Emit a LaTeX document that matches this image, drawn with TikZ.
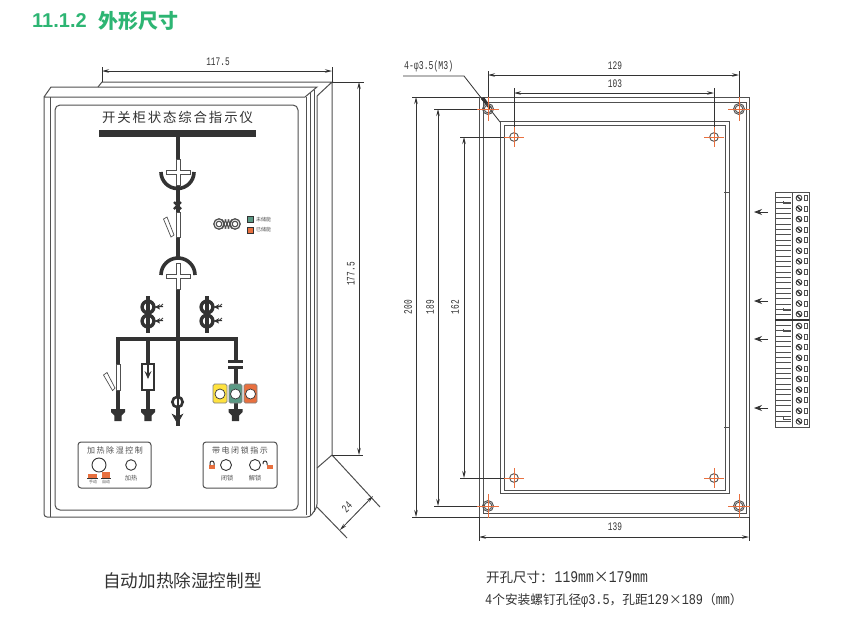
\documentclass[tikz,border=0pt]{standalone}
\usepackage{fontspec}
\usetikzlibrary{arrows.meta}
\setmainfont{Noto Sans CJK SC}
\newfontfamily\cjk{Noto Sans CJK SC}
\newfontfamily\cjkwide[LetterSpace=14]{Noto Sans CJK SC}
\newfontfamily\cjkmid[LetterSpace=19]{Noto Sans CJK SC}
\newfontfamily\dimf[FakeStretch=0.68]{Liberation Mono}
\newfontfamily\capf[FakeStretch=0.8]{Liberation Mono}
\newfontfamily\headf{Liberation Sans}
\newcommand\fs[1]{\fontsize{#1}{#1}\selectfont}
\definecolor{ln}{HTML}{505050}
\definecolor{dk}{HTML}{333333}
\definecolor{hdgreen}{HTML}{2DB573}
\definecolor{cen}{HTML}{E8703F}
\definecolor{grn}{HTML}{5B9A85}
\definecolor{ylw}{HTML}{FFE23F}
\tikzset{
  body/.style={draw=ln,line width=1pt},
  bus/.style={draw=dk,line width=4pt},
  whitebar/.style={draw=ln,fill=white,line width=0.7pt},
  dimline/.style={draw=dk,line width=0.8pt,{Stealth[length=7pt,width=3.5pt]}-{Stealth[length=7pt,width=3.5pt]}},
  extline/.style={draw=dk,line width=0.8pt},
  dimtext/.style={text=dk,font=\dimf\fs{11.5},inner sep=0pt},
  center line/.style={draw=cen,line width=0.9pt},
  hole/.style={draw=ln,line width=0.9pt},
  smalltxt/.style={text=ln,inner sep=0pt},
  panel/.style={draw=ln,line width=1pt,rounded corners=3pt},
}
\newcommand\crossmark[2]{%
  \draw[whitebar] (#1-2,#2-13)--(#1+2,#2-13)--(#1+2,#2-2)--(#1+12,#2-2)--(#1+12,#2+2)--(#1+2,#2+2)--(#1+2,#2+13)--(#1-2,#2+13)--(#1-2,#2+2)--(#1-12,#2+2)--(#1-12,#2-2)--(#1-2,#2-2)--cycle;}
\newcommand\earth[2]{%
  \fill[dk] (#1-7,#2)--(#1+7,#2)--(#1+7,#2+3)--(#1+3.7,#2+6.5)--(#1+3.7,#2+12)--(#1-3.7,#2+12)--(#1-3.7,#2+6.5)--(#1-7,#2+3)--cycle;}
\newcommand\ctrans[2]{%
  \draw[dk,line width=3.4pt] (#1,#2-11)--(#1,#2+26);
  \draw[dk,line width=3.4pt] (#1,#2) circle (5.9) (#1,#2+14) circle (5.9);
  \foreach \yy in {0,14}{
    \draw[dk,line width=1.1pt] (#1+7,#2+\yy)--(#1+15,#2+\yy-0.5);
    \fill[dk] (#1+7,#2+\yy)--(#1+12,#2+\yy-2.8)--(#1+11,#2+\yy)--(#1+12,#2+\yy+2.6)--cycle;
    \draw[dk,line width=0.8pt] (#1+12,#2+\yy-0.5)--(#1+15,#2+\yy-3);
  }}
\begin{document}
\begin{tikzpicture}[x=1pt,y=-1pt]
\useasboundingbox (0,0) rectangle (850,625);
\fill[white] (0,0) rectangle (850,625);

% heading
\node[anchor=west,inner sep=0pt,text=hdgreen] (head) at (32,21) {\headf\bfseries\fs{20}11.1.2};
\node[anchor=west,inner sep=0pt,text=hdgreen] (headcn) at (98,21) {\cjk\bfseries\fs{20}外形尺寸};

% ---------- left: cabinet ----------
\draw[body,rounded corners=3pt] (44,97)--(44,517)--(310,517)--(317,507)--(317,96);
\draw[body] (44,97)--(305,97) (44,97)--(51,87)--(317,87)--(305,97);
\draw[body] (50,97)--(50,517);
\draw[body] (306,97)--(306,515) (310,93)--(310,515) (314,90)--(314,512);
\draw[body] (98,87)--(102,82)--(332,82)--(317,96) (332,82)--(332,455)--(317,468);
\draw[body,rounded corners=5pt] (55,105) rectangle (298,510);
\draw[body] (317,507)--(347,538);
\draw[body] (332,455)--(380,507);

% dims left
\draw[extline] (102,67)--(102,82) (332,67)--(332,82) (332,82)--(364,82) (332,455)--(363,455);
\draw[dimline] (102,71)--(332,71);
\node[dimtext] (d1175) at (218,62) {117.5};
\draw[dimline] (359,82)--(359,455);
\node[dimtext,rotate=90] (d1775) at (351,274) {177.5};
\draw[dimline] (373,496)--(340,530);
\node[dimtext,rotate=45] (d24) at (347,507) {24};

% panel title
\node[inner sep=0pt,text=dk] (title) at (177.5,117) {\cjkwide\fs{13.4}开关柜状态综合指示仪};
\fill[dk] (99,130) rectangle (256,137);

% main vertical
\draw[bus] (177.5,137)--(177.5,258);
\draw[bus,line width=3.6pt] (161,172) arc[start angle=180,end angle=0,radius=16.5];
\crossmark{178}{172}
\draw[dk,line width=2.2pt] (174,202)--(181,209) (181,202)--(174,209);
\draw[whitebar] (176,212) rectangle (180,237);
\draw[whitebar] (163.5,219)--(167,217)--(174,235)--(171,237)--cycle;
\draw[bus,line width=3.6pt] (161,275) arc[start angle=180,end angle=360,radius=17];
\draw[bus] (177.5,275)--(177.5,426);
\crossmark{178}{276}

% CTs
\ctrans{148}{307}
\ctrans{207}{307}

% bus
\draw[bus,line cap=rect] (118,339)--(236,339);

% branch 1
\draw[bus] (118,339)--(118,410);
\draw[whitebar] (116,364) rectangle (120,390);
\draw[whitebar] (103.5,375)--(107,372.5)--(115,388)--(112.5,390.5)--cycle;
\earth{118}{409}
% branch 2
\draw[bus] (148,339)--(148,410);
\draw[draw=dk,line width=2.2pt,fill=white] (142,364) rectangle (154,390);
\draw[dk,line width=1.6pt] (148,364)--(148,376);
\fill[dk] (144.5,371)--(148,374)--(151.5,371)--(148,379)--cycle;
\earth{148}{409}
% branch 3
\draw[dk,line width=2.6pt,fill=white] (177.5,402) circle (5.2);
\draw[dk,line width=2pt] (177.5,396)--(177.5,408);
\fill[dk] (171.5,413.5)--(177.5,416.5)--(183.5,413.5)--(177.5,424)--cycle;
% branch 4
\draw[bus] (235.5,339)--(235.5,359.5);
\draw[dk,line width=3pt] (228,361.5)--(243,361.5) (228,367.5)--(243,367.5);
\draw[bus] (235.5,368)--(235.5,410);
\earth{235.5}{409}
\foreach \xa/\xb/\cc in {213/227/ylw,229/242/grn,244/257/cen}{
  \draw[draw=gray,line width=0.7pt,fill=\cc,rounded corners=1.5pt] (\xa,384) rectangle (\xb,403);
  \draw[dk,line width=0.7pt,fill=white] ({(\xa+\xb)/2},394) circle (5);
}

% logo
\foreach \xx in {219,235}{
  \draw[ln,line width=1.3pt] (\xx,224) circle (5.2);
  \draw[ln,line width=1.1pt] (\xx,224) circle (2.8);
}
\foreach \xx in {222,225,228}{
  \draw[ln,line width=1.2pt] (\xx,219.5)--(\xx+4,228.5);
  \draw[ln,line width=1.2pt] (\xx+4,219.5)--(\xx,228.5);
}
\draw[draw=dk,line width=0.7pt,fill=grn] (247,216.5) rectangle (253.5,222.5);
\draw[draw=dk,line width=0.7pt,fill=cen] (247,227) rectangle (253.5,233);
\node[smalltxt,anchor=west] (t1) at (256,219.5) {\cjk\fs{5}未储能};
\node[smalltxt,anchor=west] (t2) at (256,230) {\cjk\fs{5}已储能};

% control boxes
\draw[panel] (78,442) rectangle (151,488);
\node[smalltxt] (p1) at (115,450) {\cjkmid\fs{8}加热除湿控制};
\draw[dk,line width=0.9pt] (99,465) circle (7);
\draw[dk,line width=0.9pt] (131,465) circle (5.3);
\fill[cen] (88,474) rectangle (97,477.5);
\fill[dk] (87,477.5) rectangle (98,478.5);
\fill[cen] (102,472) rectangle (110,477.5);
\fill[dk] (101,477.5) rectangle (111,478.5);
\node[smalltxt] (p1a) at (93,481.5) {\cjk\fs{4}手动};
\node[smalltxt] (p1b) at (106,481.5) {\cjk\fs{4}自动};
\node[smalltxt] (p1c) at (131,478) {\cjk\fs{6.2}加热};

\draw[panel] (203,442) rectangle (277,488);
\node[smalltxt] (p2) at (240,450) {\cjkmid\fs{8}带电闭锁指示};
\draw[dk,line width=0.9pt] (226,465) circle (5.5);
\draw[dk,line width=0.9pt] (255,465) circle (5.5);
\fill[cen] (209,465) rectangle (215,469);
\draw[dk,line width=1pt] (210,465)--(210,463) arc[start angle=180,end angle=360,radius=2]--(214,465);
\fill[cen] (267,465) rectangle (273,469);
\draw[dk,line width=1pt] (267,465)--(267,463) arc[start angle=0,end angle=-180,radius=2]--(263,464);
\node[smalltxt] (p2a) at (227,478) {\cjk\fs{6.2}闭锁};
\node[smalltxt] (p2b) at (255,478) {\cjk\fs{6.2}解锁};

\node[inner sep=0pt,text=dk] (cap1) at (182.5,581) {\cjk\fs{17.6}自动加热除湿控制型};

% ---------- right: mounting ----------
\draw[body] (479,97) rectangle (749,517);
\draw[body] (483,102) rectangle (746,513);
\draw[body] (500,121) rectangle (729,493);
\draw[body] (504,125) rectangle (725,490);
\draw[body] (724,192)--(729,192) (724,427)--(729,427);

% extension lines and dims
\draw[extline] (488,71)--(488,109) (739,71)--(739,109);
\draw[extline] (514,88)--(514,137) (714,88)--(714,137);
\draw[extline] (479,517)--(479,541) (749,517)--(749,541);
\draw[extline] (412,97)--(479,97) (412,517)--(479,517);
\draw[extline] (434,109)--(488,109) (434,506)--(488,506);
\draw[extline] (460,137)--(514,137) (460,478)--(514,478);
\draw[dimline] (488,75)--(739,75);
\draw[dimline] (514,93)--(714,93);
\draw[dimline] (479,537)--(749,537);
\draw[dimline] (416,97)--(416,517);
\draw[dimline] (438,109)--(438,506);
\draw[dimline] (464,137)--(464,478);
\node[dimtext] (d129) at (615,66) {129};
\node[dimtext] (d103) at (615,84) {103};
\node[dimtext] (d139) at (615,527) {139};
\node[dimtext,rotate=90] (d200) at (408,307) {200};
\node[dimtext,rotate=90] (d189) at (430,307) {189};
\node[dimtext,rotate=90] (d162) at (455,307) {162};

% leader
\node[dimtext,anchor=west] (lead) at (404,66) {\fs{12}4-φ3.5(M3)};
\coordinate (la) at (403,76);
\coordinate (lb) at (464,76);
\coordinate (lc) at (500,122);
\draw[extline] (la)--(lb)--(lc);
\fill[dk] (481,99)--(484,97)--(491,107)--(489,109)--cycle;

% holes
\foreach \hx/\hy in {488/109,739/109,488/506,739/506}{
  \draw[hole] (\hx,\hy) circle (5.5) (\hx,\hy) circle (3.8);
  \draw[center line] (\hx-11,\hy)--(\hx+11,\hy) (\hx,\hy-12)--(\hx,\hy+12);
}
\foreach \hx/\hy in {514/137,714/137,514/478,714/478}{
  \draw[hole] (\hx,\hy) circle (4.3);
  \draw[center line] (\hx-10,\hy)--(\hx+10,\hy) (\hx,\hy-10)--(\hx,\hy+10);
}

% terminal block
\draw[body,line width=0.9pt] (775,192) rectangle (809,427);
\draw[ln,line width=1.6pt] (792.5,192)--(792.5,427);
\foreach \i in {1,...,43}{
  \draw[ln,line width=0.9pt] (775,{192+5.34*\i})--(791,{192+5.34*\i});
}
\foreach \ya/\yb in {201/203,308/310,329/331,417/419}{
  \draw[ln,line width=0.7pt] (783,\ya)--(783,\yb)--(791,\yb);
}
\draw[dk,line width=1.3pt] (775,320)--(809,320);
\foreach \k in {0,...,11}{
  \draw[dk,line width=0.8pt] (799,{198+10.55*\k}) circle (2.9);
  \draw[dk,line width=1.4pt] (797,{196+10.55*\k})--(801,{200+10.55*\k});
  \draw[ln,line width=0.7pt] (804.5,{195.5+10.55*\k}) rectangle (807,{200.5+10.55*\k});
}
\foreach \k in {0,...,9}{
  \draw[dk,line width=0.8pt] (799,{326+10.6*\k}) circle (2.9);
  \draw[dk,line width=1.4pt] (797,{324+10.6*\k})--(801,{328+10.6*\k});
  \draw[ln,line width=0.7pt] (804.5,{323.5+10.6*\k}) rectangle (807,{328.5+10.6*\k});
}
\foreach \ay in {212,301,339,408}{
  \draw[dk,line width=0.9pt,-{Stealth[length=8pt,width=6pt]}] (768,\ay)--(754,\ay);
}

% captions
\node[anchor=west,inner sep=0pt,text=dk] (cap2) at (486,577) {\cjk\fs{13.5}开孔尺寸：\capf\fs{16.3}\hspace{1pt}119mm\cjk\fs{15}×\capf\fs{16.3}179mm};
\node[anchor=west,inner sep=0pt,text=dk] (cap3) at (485,600.5) {\capf\fs{14.8}4\cjk\fs{12.7}个安装螺钉孔径\capf\fs{14.8}φ3.5\cjk\fs{12.7}，孔距\capf\fs{14.8}129\cjk\fs{12.7}×\capf\fs{14.8}189\cjk\fs{12.7}（\capf\fs{14.8}mm\cjk\fs{12.7}）};
\end{tikzpicture}
\end{document}
